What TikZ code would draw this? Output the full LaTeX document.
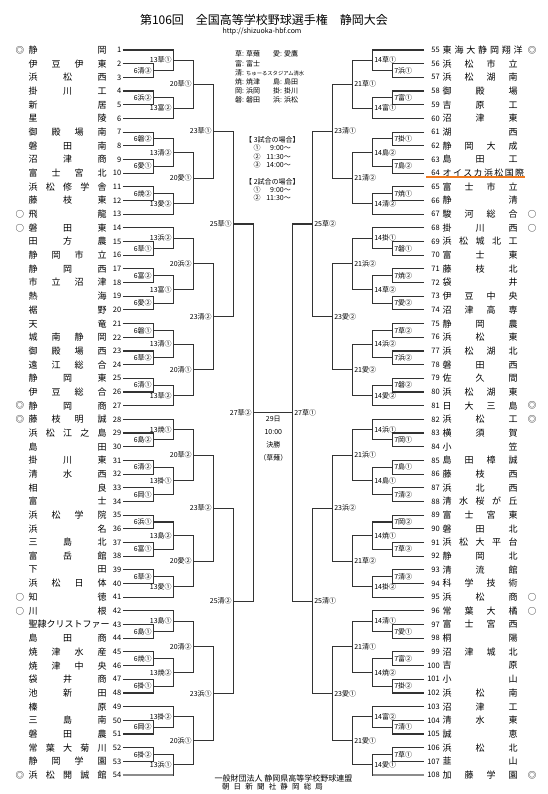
\documentclass[tikz,border=0pt]{standalone}
\usepackage{fontspec}
\setmainfont{Noto Sans CJK JP}
\usetikzlibrary{calc}
\definecolor{ln}{HTML}{333333}
\definecolor{orng}{HTML}{F07A1E}
\tikzset{
  br/.style={draw=ln, line width=1.1pt},
  brgray/.style={draw=black!45, line width=1.4pt},
  lblL/.style={anchor=east, xshift=-0.8pt, inner sep=0.6pt, font=\fontsize{7}{7}\selectfont},
  lblR/.style={anchor=west, xshift=0.8pt, inner sep=0.6pt, font=\fontsize{7}{7}\selectfont},
  num/.style={inner sep=0pt, anchor=east, font=\fontsize{7.5}{7.5}\selectfont},
  nm/.style={inner sep=0pt, anchor=west, font=\fontsize{9}{9}\selectfont},
  seedmark/.style={inner sep=0pt, font=\fontsize{8.5}{8.5}\selectfont},
  smalltxt/.style={inner sep=0pt, anchor=west, font=\fontsize{7}{7}\selectfont},
}
\newcommand\gm[6]{%
  \path let \p1=($(#3)!0.5!(#4)$) in coordinate (#1) at (#2,\y1);
  \draw[br] (#3) -| (#1) |- (#4);
  \node[lbl#6] (l#1) at (#1) {#5};}
\begin{document}
\begin{tikzpicture}[x=1pt,y=-1pt]
\fill[white] (0,0) rectangle (548,794);
\useasboundingbox (0,0) rectangle (548,794);
% title
\node[inner sep=0pt, font=\fontsize{12}{12}\selectfont] (title) at (264,20) {第106回　全国高等学校野球選手権　静岡大会};
\node[inner sep=0pt, font=\fontsize{7}{7}\selectfont] (url) at (262,31.5) {http://shizuoka-hbf.com};
% left teams
\foreach \ii/\mk/\tm in {1/◎/静 岡,2//伊 豆 伊 東,3//浜 松 西,4//掛 川 工,5//新 居,6//星 陵,7//御 殿 場 南,8//磐 田 南,9//沼 津 商,10//富 士 宮 北,11//浜 松 修 学 舎,12//藤 枝 東,13/○/飛 龍,14/○/磐 田 東,15//田 方 農,16//静 岡 市 立,17//静 岡 西,18//市 立 沼 津,19//熱 海,20//裾 野,21//天 竜,22//城 南 静 岡,23//御 殿 場 西,24//遠 江 総 合,25//静 岡 東,26//伊 豆 総 合,27/◎/静 岡 商,28/◎/藤 枝 明 誠,29//浜 松 江 之 島,30//島 田,31//掛 川 東,32//清 水 西,33//相 良,34//富 士,35//浜 松 学 院,36//浜 名,37//三 島 北,38//富 岳 館,39//下 田,40//浜 松 日 体,41/○/知 徳,42/○/川 根,43//聖隷クリストファー,44//島 田 商,45//焼 津 水 産,46//焼 津 中 央,47//袋 井 商,48//池 新 田,49//榛 原,50//三 島 南,51//磐 田 農,52//常 葉 大 菊 川,53//静 岡 学 園,54/◎/浜 松 開 誠 館}{
  \pgfmathsetmacro\yy{50+(\ii-1)*13.68}
  \node[num] (t\ii) at (121.5,\yy) {\ii};
  \node[nm] (n\ii) at (28.5,\yy) {\makebox[78pt][s]{\tm}};
  \node[seedmark] (m\ii) at (20,\yy) {\mk};
  \coordinate (e\ii) at (122.5,\yy);
}
% right teams
\foreach \ii/\mk/\tm in {56//浜 松 市 立,57//浜 松 湖 南,58//御 殿 場,59//吉 原 工,60//沼 津 東,61//湖 西,62//静 岡 大 成,63//島 田 工,65//富 士 市 立,66//静 清,67/○/駿 河 総 合,68/○/掛 川 西,69//浜 松 城 北 工,70//富 士 東,71//藤 枝 北,72//袋 井,73//伊 豆 中 央,74//沼 津 高 専,75//静 岡 農,76//浜 松 東,77//浜 松 湖 北,78//磐 田 西,79//佐 久 間,80//浜 松 湖 東,81/◎/日 大 三 島,82/◎/浜 松 工,83//横 須 賀,84//小 笠,85//島 田 樟 誠,86//藤 枝 西,87//浜 北 西,88//清 水 桜 が 丘,89//富 士 宮 東,90//磐 田 北,91//浜 松 大 平 台,92//静 岡 北,93//清 流 館,94//科 学 技 術,95/○/浜 松 商,96/○/常 葉 大 橘,97//富 士 宮 西,98//桐 陽,99//沼 津 城 北,100//吉 原,101//小 山,102//浜 松 南,103//沼 津 工,104//清 水 東,105//誠 恵,106//浜 松 北,107//韮 山,108/◎/加 藤 学 園}{
  \pgfmathsetmacro\yy{50+(\ii-55)*13.68}
  \node[num] (t\ii) at (440,\yy) {\ii};
  \node[nm] (n\ii) at (442.5,\yy) {\makebox[75pt][s]{\tm}};
  \node[seedmark] (m\ii) at (532,\yy) {\mk};
  \coordinate (e\ii) at (424,\yy);
}
\foreach \ii/\mk/\tm in {55/◎/東 海 大 静 岡 翔 洋,64//オ イ ス カ 浜 松 国 際}{
  \pgfmathsetmacro\yy{50+(\ii-55)*13.68}
  \node[num] (t\ii) at (440,\yy) {\ii};
  \node[nm] (n\ii) at (442.5,\yy) {\makebox[80pt][s]{\tm}};
  \node[seedmark] (m\ii) at (532,\yy) {\mk};
  \coordinate (e\ii) at (424,\yy);
}
% left bracket
\gm{a1}{153.3}{e2}{e3}{6清③}{L}
\gm{b1}{173.3}{e1}{a1}{13草①}{L}
\gm{a2}{153.3}{e4}{e5}{6浜②}{L}
\gm{b2}{173.3}{a2}{e6}{13富②}{L}
\gm{c1}{193.3}{b1}{b2}{20草①}{L}
\gm{a3}{153.3}{e7}{e8}{6磐②}{L}
\gm{a4}{153.3}{e9}{e10}{6愛①}{L}
\gm{b3}{173.3}{a3}{a4}{13清②}{L}
\gm{a5}{153.3}{e11}{e12}{6焼②}{L}
\gm{b4}{173.3}{a5}{e13}{13愛②}{L}
\gm{c2}{193.3}{b3}{b4}{20愛①}{L}
\gm{d1}{213.3}{c1}{c2}{23草①}{L}
\gm{a6}{153.3}{e15}{e16}{6草①}{L}
\gm{b5}{173.3}{e14}{a6}{13浜②}{L}
\gm{a7}{153.3}{e17}{e18}{6富②}{L}
\gm{a8}{153.3}{e19}{e20}{6愛②}{L}
\gm{b6}{173.3}{a7}{a8}{13富①}{L}
\gm{c3}{193.3}{b5}{b6}{20浜②}{L}
\gm{a9}{153.3}{e21}{e22}{6磐①}{L}
\gm{a10}{153.3}{e23}{e24}{6草②}{L}
\gm{b7}{173.3}{a9}{a10}{13清①}{L}
\gm{a11}{153.3}{e25}{e26}{6清①}{L}
\gm{b8}{173.3}{a11}{e27}{13草②}{L}
\gm{c4}{193.3}{b7}{b8}{20清①}{L}
\gm{d2}{213.3}{c3}{c4}{23清②}{L}
\gm{f1}{233.3}{d1}{d2}{25草①}{L}
\gm{a12}{153.3}{e29}{e30}{6島②}{L}
\gm{b9}{173.3}{e28}{a12}{13焼①}{L}
\gm{a13}{153.3}{e31}{e32}{6清②}{L}
\gm{a14}{153.3}{e33}{e34}{6岡①}{L}
\gm{b10}{173.3}{a13}{a14}{13掛①}{L}
\gm{c5}{193.3}{b9}{b10}{20草②}{L}
\gm{a15}{153.3}{e35}{e36}{6浜①}{L}
\gm{a16}{153.3}{e37}{e38}{6富①}{L}
\gm{b11}{173.3}{a15}{a16}{13島②}{L}
\gm{a17}{153.3}{e39}{e40}{6草③}{L}
\gm{b12}{173.3}{a17}{e41}{13愛①}{L}
\gm{c6}{193.3}{b11}{b12}{20愛②}{L}
\gm{d3}{213.3}{c5}{c6}{23草②}{L}
\gm{a18}{153.3}{e43}{e44}{6島①}{L}
\gm{b13}{173.3}{e42}{a18}{13島①}{L}
\gm{a19}{153.3}{e45}{e46}{6焼①}{L}
\gm{a20}{153.3}{e47}{e48}{6掛①}{L}
\gm{b14}{173.3}{a19}{a20}{13焼②}{L}
\gm{c7}{193.3}{b13}{b14}{20清②}{L}
\gm{a21}{153.3}{e50}{e51}{6岡②}{L}
\gm{b15}{173.3}{e49}{a21}{13掛②}{L}
\gm{a22}{153.3}{e52}{e53}{6掛②}{L}
\gm{b16}{173.3}{a22}{e54}{13浜①}{L}
\gm{c8}{193.3}{b15}{b16}{20浜①}{L}
\gm{d4}{213.3}{c7}{c8}{23浜①}{L}
\gm{f2}{233.3}{d3}{d4}{25清②}{L}
\gm{s1}{253.3}{f1}{f2}{27草②}{L}
% right bracket
\gm{A1}{392.7}{e56}{e57}{7浜①}{R}
\gm{B1}{372.7}{e55}{A1}{14草①}{R}
\gm{A2}{392.7}{e58}{e59}{7富①}{R}
\gm{B2}{372.7}{A2}{e60}{14富①}{R}
\gm{C1}{352.7}{B1}{B2}{21草①}{R}
\gm{A3}{392.7}{e61}{e62}{7掛①}{R}
\gm{A4}{392.7}{e63}{e64}{7島②}{R}
\gm{B3}{372.7}{A3}{A4}{14島②}{R}
\gm{A5}{392.7}{e65}{e66}{7焼①}{R}
\gm{B4}{372.7}{A5}{e67}{14清②}{R}
\gm{C2}{352.7}{B3}{B4}{21清②}{R}
\gm{D1}{332.7}{C1}{C2}{23清①}{R}
\gm{A6}{392.7}{e69}{e70}{7磐①}{R}
\gm{B5}{372.7}{e68}{A6}{14掛①}{R}
\gm{A7}{392.7}{e71}{e72}{7焼②}{R}
\gm{A8}{392.7}{e73}{e74}{7愛②}{R}
\gm{B6}{372.7}{A7}{A8}{14草②}{R}
\gm{C3}{352.7}{B5}{B6}{21浜②}{R}
\gm{A9}{392.7}{e75}{e76}{7草②}{R}
\gm{A10}{392.7}{e77}{e78}{7浜②}{R}
\gm{B7}{372.7}{A9}{A10}{14浜②}{R}
\gm{A11}{392.7}{e79}{e80}{7磐②}{R}
\gm{B8}{372.7}{A11}{e81}{14愛②}{R}
\gm{C4}{352.7}{B7}{B8}{21愛②}{R}
\gm{D2}{332.7}{C3}{C4}{23愛②}{R}
\gm{F1}{312.7}{D1}{D2}{25草②}{R}
\gm{A12}{392.7}{e83}{e84}{7岡①}{R}
\gm{B9}{372.7}{e82}{A12}{14浜①}{R}
\gm{A13}{392.7}{e85}{e86}{7島①}{R}
\gm{A14}{392.7}{e87}{e88}{7清②}{R}
\gm{B10}{372.7}{A13}{A14}{14島①}{R}
\gm{C5}{352.7}{B9}{B10}{21浜①}{R}
\gm{A15}{392.7}{e89}{e90}{7岡②}{R}
\gm{A16}{392.7}{e91}{e92}{7草③}{R}
\gm{B11}{372.7}{A15}{A16}{14焼①}{R}
\gm{A17}{392.7}{e93}{e94}{7清③}{R}
\gm{B12}{372.7}{A17}{e95}{14掛②}{R}
\gm{C6}{352.7}{B11}{B12}{21草②}{R}
\gm{D3}{332.7}{C5}{C6}{23浜②}{R}
\gm{A18}{392.7}{e97}{e98}{7愛①}{R}
\gm{B13}{372.7}{e96}{A18}{14清①}{R}
\gm{A19}{392.7}{e99}{e100}{7富②}{R}
\gm{A20}{392.7}{e101}{e102}{7掛②}{R}
\gm{B14}{372.7}{A19}{A20}{14焼②}{R}
\gm{C7}{352.7}{B13}{B14}{21清①}{R}
\gm{A21}{392.7}{e104}{e105}{7清①}{R}
\gm{B15}{372.7}{e103}{A21}{14富②}{R}
\gm{A22}{392.7}{e106}{e107}{7草①}{R}
\gm{B16}{372.7}{A22}{e108}{14愛①}{R}
\gm{C8}{352.7}{B15}{B16}{21愛①}{R}
\gm{D4}{332.7}{C7}{C8}{23愛①}{R}
\gm{F2}{312.7}{D3}{D4}{25清①}{R}
\gm{S1}{292.7}{F1}{F2}{27草①}{R}
% gray last lines
\draw[brgray] (e54) -- (b16 |- e54);
\draw[brgray] (e108) -- (B16 |- e108);
% orange underline
\coordinate (u1) at (426,177);
\coordinate (u2) at (525,177);
\draw[orng, line width=1.2pt] (u1) -- (u2);
% final
\draw[br] (s1) -- (S1);
\node[inner sep=0pt, align=center, font=\fontsize{7}{13}\selectfont, anchor=north] (fin) at (273.3,416) {29日\\10:00\\決勝\\（草薙）};
% legend
\node[smalltxt] (g1) at (235,54) {草: 草薙};
\node[smalltxt] (g2) at (235,63.5) {富: 富士};
\node[smalltxt] (g3) at (235,72.5) {清: {\fontsize{5.3}{5.3}\selectfont ちゅーるスタジアム清水}};
\node[smalltxt] (g4) at (235,81.5) {焼: 焼津};
\node[smalltxt] (g5) at (235,90.5) {岡: 浜岡};
\node[smalltxt] (g6) at (235,99.5) {磐: 磐田};
\node[smalltxt] (g7) at (273,54) {愛: 愛鷹};
\node[smalltxt] (g8) at (273,81.5) {島: 島田};
\node[smalltxt] (g9) at (273,90.5) {掛: 掛川};
\node[smalltxt] (g10) at (273,99.5) {浜: 浜松};
% schedule
\node[smalltxt] (h1) at (245,140) {【 3試合の場合】};
\node[smalltxt, anchor=center] (h2) at (257,148.3) {①};
\node[smalltxt, anchor=east] (h3) at (291,148.3) {9:00～};
\node[smalltxt, anchor=center] (h4) at (257,156.7) {②};
\node[smalltxt, anchor=east] (h5) at (291,156.7) {11:30～};
\node[smalltxt, anchor=center] (h6) at (257,165) {③};
\node[smalltxt, anchor=east] (h7) at (291,165) {14:00～};
\node[smalltxt] (h8) at (245,181.7) {【 2試合の場合】};
\node[smalltxt, anchor=center] (h9) at (257,190) {①};
\node[smalltxt, anchor=east] (h10) at (291,190) {9:00～};
\node[smalltxt, anchor=center] (h11) at (257,198.3) {②};
\node[smalltxt, anchor=east] (h12) at (291,198.3) {11:30～};
% footer
\node[inner sep=0pt, font=\fontsize{8}{8}\selectfont] (ft1) at (283.5,778) {一般財団法人 静岡県高等学校野球連盟};
\node[inner sep=0pt, font=\fontsize{7.5}{7.5}\selectfont] (ft2) at (272.5,786.5) {\makebox[101pt][s]{朝 日 新 聞 社 静 岡 総 局}};
\end{tikzpicture}
\end{document}
